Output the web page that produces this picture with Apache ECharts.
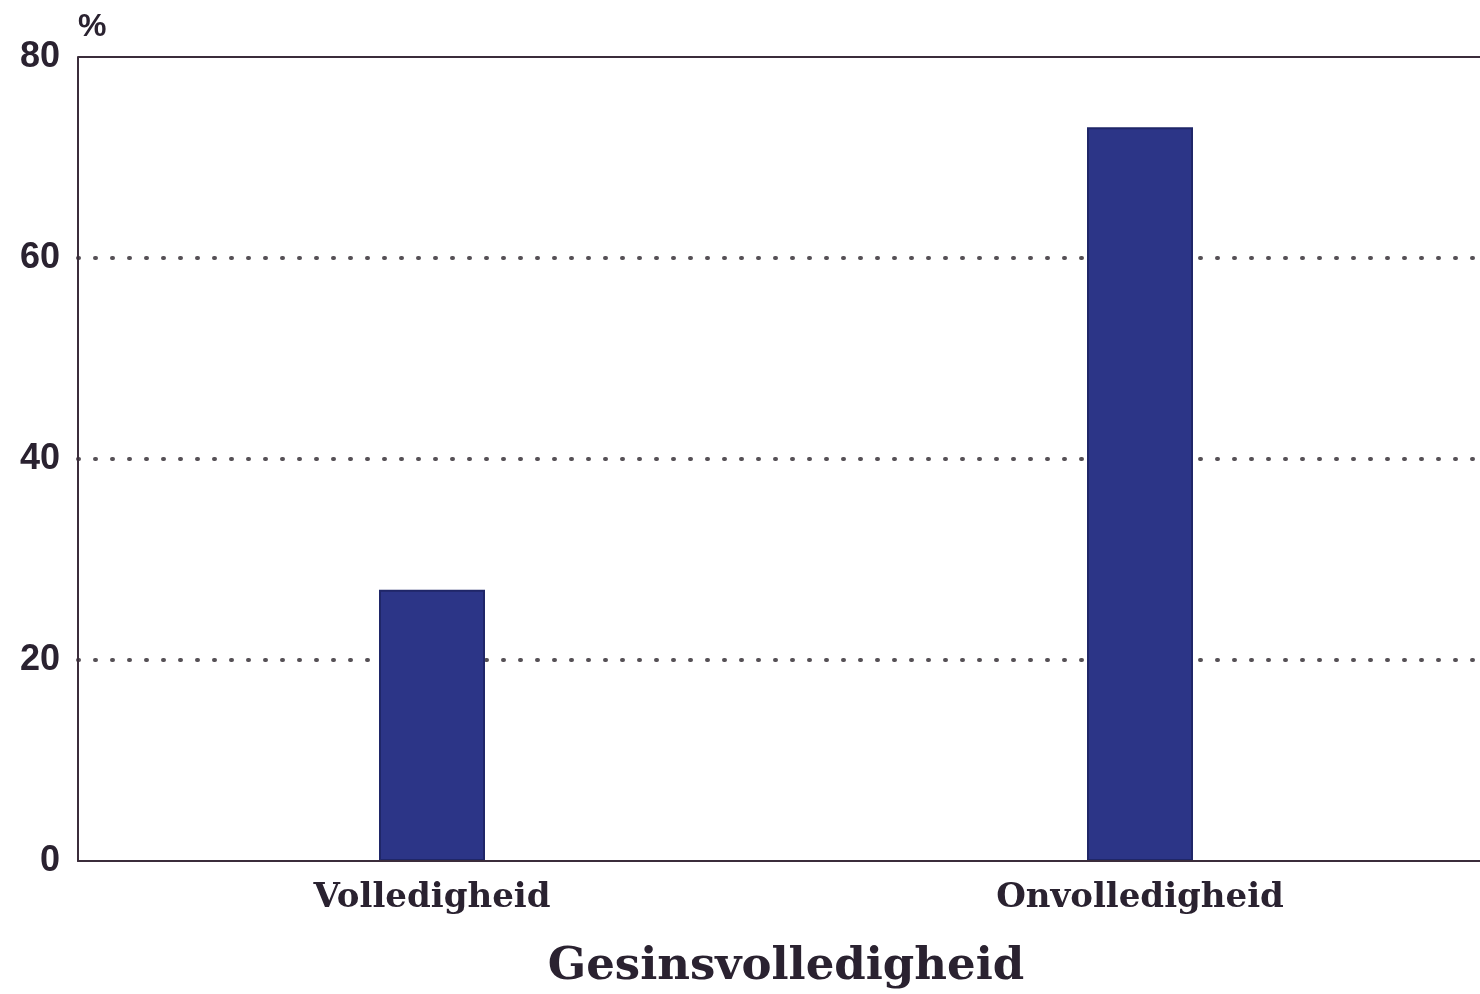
<!DOCTYPE html>
<html>
<head>
<meta charset="utf-8">
<script src="https://cdn.jsdelivr.net/npm/echarts@6/dist/echarts.min.js"></script>
<style>
  html, body { margin: 0; padding: 0; background: #fff; }
  #chart { width: 1480px; height: 994px; }
</style>
</head>
<body>
<div id="chart"></div>
<script>
  const categories = ['Volledigheid', 'Onvolledigheid'];
  const percentages = [27, 73];
  const yTicks = [0, 20, 40, 60, 80];

  const myChart = echarts.init(document.getElementById('chart'));

  // kleuren uit de scan
  const axisColor = '#3b2d3b';
  const barColor = '#2c3587';

  const option = {
    backgroundColor: '#ffffff',
    animation: false,
    grid: {
      left: 78,
      right: -14,
      top: 57,
      bottom: 133,
      outerBoundsMode: 'none',
      containLabel: false
    },
    xAxis: {
      type: 'category',
      data: categories,
      z: 5,
      name: 'Gesinsvolledigheid',
      nameLocation: 'middle',
      nameGap: 84,
      nameTextStyle: {
        fontFamily: 'DejaVu Serif',
        fontWeight: 'bold',
        fontSize: 45,
        color: '#2a2230'
      },
      axisLine: { lineStyle: { color: axisColor, width: 2 } },
      axisTick: {
        alignWithLabel: true,
        inside: true,
        length: 16,
        lineStyle: { color: '#0e2a24', width: 2 }
      },
      axisLabel: {
        margin: 20,
        fontFamily: 'DejaVu Serif',
        fontWeight: 'bold',
        fontSize: 34,
        color: '#2a2230'
      }
    },
    yAxis: {
      type: 'value',
      min: yTicks[0],
      max: yTicks[yTicks.length - 1],
      interval: 20,
      name: '%',
      nameLocation: 'end',
      nameGap: 14,
      nameTextStyle: {
        fontFamily: 'Liberation Sans',
        fontWeight: 'bold',
        fontSize: 32,
        color: '#2a2230',
        align: 'left',
        padding: [0, 0, 0, 0]
      },
      axisLine: { show: true, lineStyle: { color: axisColor, width: 2 } },
      axisTick: { show: false },
      axisLabel: {
        margin: 18,
        fontFamily: 'Liberation Sans',
        fontWeight: 'bold',
        fontSize: 36,
        color: '#2a2230'
      },
      splitLine: {
        show: true,
        showMinLine: false,
        showMaxLine: false,
        lineStyle: {
          color: '#555055',
          width: 4,
          type: [1, 16],
          cap: 'round'
        }
      }
    },
    series: [
      {
        type: 'bar',
        data: percentages,
        barWidth: 106,
        itemStyle: {
          color: barColor,
          borderColor: '#1f2668',
          borderWidth: 2
        }
      }
    ],
    graphic: [
      {
        // bovenste doorgetrokken lijn bij 80
        type: 'line',
        shape: { x1: 78, y1: 57, x2: 1480, y2: 57 },
        style: { stroke: axisColor, lineWidth: 2 },
        z: 10
      }
    ]
  };

  myChart.setOption(option);
</script>
</body>
</html>
